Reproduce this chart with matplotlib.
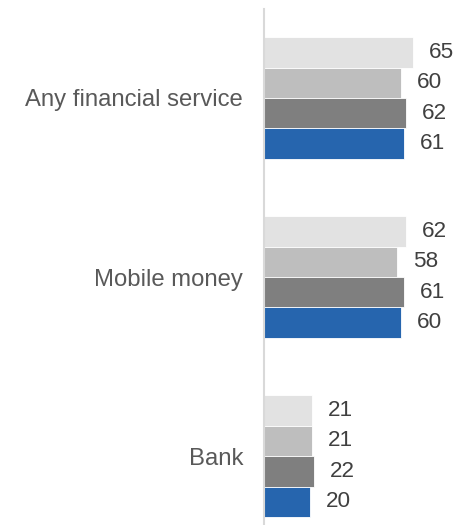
import matplotlib
matplotlib.use("Agg")
import matplotlib.pyplot as plt
import numpy as np

plt.rcParams['font.family'] = ['Liberation Sans', 'DejaVu Sans']

categories = ["Any financial service", "Mobile money", "Bank"]
series_1 = [65, 62, 21]
series_2 = [60, 58, 21]
series_3 = [62, 61, 22]
series_4 = [61, 60, 20]
series = [series_1, series_2, series_3, series_4]
colors = ["#E2E2E2", "#BEBEBE", "#7F7F7F", "#2665AE"]

W, H = 456, 525
fig = plt.figure(figsize=(W / 100, H / 100), dpi=100)
ax_left = 264 / W
ax_top_px = 9
ax = fig.add_axes([ax_left, 0, 1 - ax_left, (H - ax_top_px) / H])

bar_h = 0.17
y = np.arange(len(categories))
offsets = (np.arange(len(series)) - (len(series) - 1) / 2) * bar_h

for vals, off, col in zip(series, offsets, colors):
    bars = ax.barh(y + off, vals, height=bar_h, color=col,
                   edgecolor="white", linewidth=0.6)
    for b, v in zip(bars, vals):
        ax.annotate(f"{v}", xy=(b.get_width(), b.get_y() + b.get_height() / 2),
                    xytext=(11.5, 0), textcoords="offset points",
                    ha="left", va="center", fontsize=16.2, color="#404040")

ax.set_xlim(0, (W - 264) / 2.29)
ax.set_ylim(2.385, -0.497)

for s in ["top", "right", "bottom"]:
    ax.spines[s].set_visible(False)
ax.spines["left"].set_color("#D9D9D9")
ax.spines["left"].set_linewidth(1.5)
ax.set_xticks([])
ax.set_yticks(y)
ax.set_yticklabels(categories, fontsize=17.2, color="#595959")
ax.tick_params(axis="y", length=0, pad=15)

fig.savefig("out.png", dpi=100)
